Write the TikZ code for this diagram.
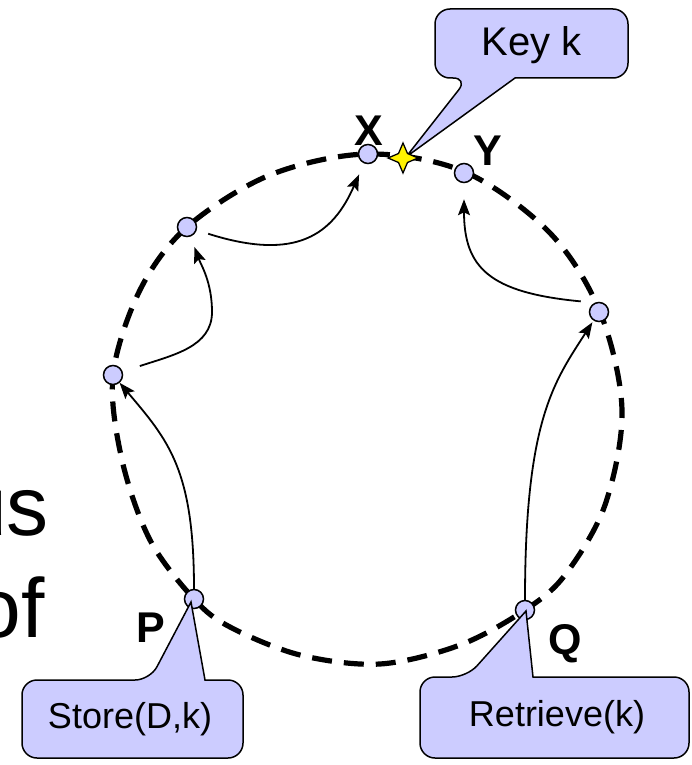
\documentclass[tikz,border=0pt]{standalone}
\usepackage{fontspec}
\setmainfont{Liberation Sans}
\usetikzlibrary{arrows.meta,calc}
\definecolor{lav}{HTML}{CCCCFF}
\begin{document}
\begin{tikzpicture}[x=1pt,y=-1pt,
  peer/.style={circle,draw=black,line width=1.5pt,fill=lav,minimum size=19pt,inner sep=0pt},
  ring/.style={line width=5.2pt,dash pattern=on 20pt off 12pt},
  hop/.style={line width=1.8pt,-{Stealth[length=16pt,width=12pt,inset=3pt]}},
  bubble/.style={draw=black,line width=1.5pt,fill=lav,rounded corners=15pt},
  ctext/.style={font=\fontsize{36}{40}\selectfont,inner sep=0pt},
  keytext/.style={font=\fontsize{40}{44}\selectfont,inner sep=0pt},
  lbl/.style={font=\fontsize{43}{46}\selectfont\bfseries,inner sep=0pt,anchor=base},
  frag/.style={font=\fontsize{84}{100}\selectfont,inner sep=0pt,anchor=base east}
]
\useasboundingbox (0,0) rectangle (691,765);
\clip (0,0) rectangle (691,765);

% cut-off text fragments at the left edge
\node[frag] (fragus) at (49,535) {us};
\node[frag] (fragof) at (45,637) {of};

% dashed ring
\draw[ring] plot[smooth cycle, tension=0.55] coordinates {
  (368,154) (465,172) (550,233) (600,312) (622,410) (605,505) (565,575)
  (525,610) (460,645) (380,664) (300,655) (230,627) (194,599) (150,540)
  (122,460) (113,375) (140,290) (187,227) (270,175)};

% peers on the ring
\node[peer] (X) at (368,154) {};
\node[peer] (Y) at (464,173) {};
\node[peer] (A1) at (187,227) {};
\node[peer] (A2) at (113,375) {};
\node[peer] (B1) at (599,312) {};
\node[peer] (P) at (194,599) {};
\node[peer] (Q) at (525,610) {};

% routing hops
\draw[hop] (P) .. controls +(0,-130) and +(55,65) .. (A2);
\coordinate (m1) at (212,312);
\draw[hop, shorten <=18pt, shorten >=11pt] (A2) .. controls +(60,-20) and +(0,35) .. (m1)
   .. controls +(0,-30) and +(14,38) .. (A1);
\draw[hop, shorten <=12pt, shorten >=12pt] (A1) .. controls +(110,35) and +(-35,80) .. (X);
\draw[hop, shorten >=2pt] (Q) .. controls +(0,-190) and +(-45,70) .. (B1);
\draw[hop, shorten <=14pt, shorten >=16pt] (B1.115) .. controls +(-105,-10) and +(0,95) .. (Y);

% key position
\coordinate (K) at (403,158);

% callouts
\path[bubble] (205,680) -- (243,680) -- (243,758) -- (22,758) -- (22,680) -- (150,680)
   [sharp corners] -- ($(P)+(-3,3)$) -- cycle;
\node[ctext] (storetext) at (130,719) {Store(D,k)};

\path[bubble] (533,677) -- (689,677) -- (689,758) -- (420,758) -- (420,677) -- (467,677)
   [sharp corners] -- ($(Q)+(1,1)$) -- cycle;
\node[ctext] (rettext) at (557,717) {Retrieve(k)};

\path[bubble] (515,78) -- (628,78) -- (628,9) -- (435,9) -- (435,78) -- (468,78)
   [sharp corners] -- ($(K)+(3,-1)$) -- cycle;
\node[keytext] (keytxt) at (532,45) {Key k};

% star marking the key
\draw[fill=yellow,line width=1.3pt] (K) ++(0,-15) -- ++(4.5,10.5) -- ++(10.5,4.5)
  -- ++(-10.5,4.5) -- ++(-4.5,10.5) -- ++(-4.5,-10.5) -- ++(-10.5,-4.5) -- ++(10.5,-4.5) -- cycle;

% labels
\node[lbl] (lx) at (369,145) {X};
\node[lbl] (ly) at (488,165) {Y};
\node[lbl] (lp) at (151,642) {P};
\node[lbl] (lq) at (565,654) {Q};
\end{tikzpicture}
\end{document}
